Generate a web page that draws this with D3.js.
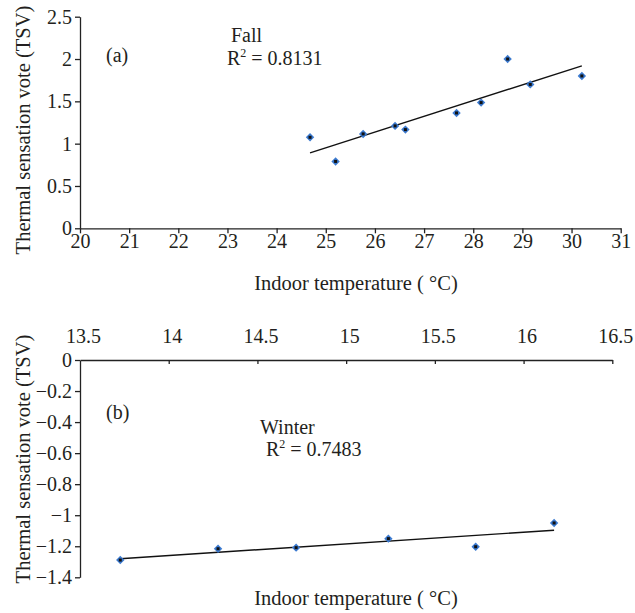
<!DOCTYPE html>
<html><head><meta charset="utf-8">
<script src="https://cdn.jsdelivr.net/npm/d3@7"></script>
<style>
body{margin:0;background:#fff;}
svg text{font-family:"Liberation Serif","Times New Roman",serif;fill:#231f20;}
</style></head>
<body><svg id="c" width="635" height="613"></svg>
<script>
// Fall data
const fallTemp = [24.68, 25.2, 25.76, 26.41, 26.62, 27.66, 28.16, 28.70, 29.16, 30.21];
const fallTSV  = [1.075, 0.79, 1.115, 1.21, 1.166, 1.363, 1.485, 2.0, 1.70, 1.80];
const fallXTicks = [20,21,22,23,24,25,26,27,28,29,30,31];
const fallYTicks = [0,0.5,1,1.5,2,2.5];
// Winter data
const winterTemp = [13.727, 14.278, 14.718, 15.238, 15.73, 16.172];
const winterTSV  = [-1.289, -1.216, -1.209, -1.151, -1.203, -1.050];
const winterXTicks = [13.5,14,14.5,15,15.5,16,16.5];
const winterYTicks = [0,-0.2,-0.4,-0.6,-0.8,-1,-1.2,-1.4];
const xTitle = "Indoor temperature ( °C)";
const yTitle = "Thermal sensation vote (TSV)";

const svg = d3.select("#c");
const FS = 20;
const TFS = 20.5;

function linreg(xs, ys){
  const n = xs.length, mx = d3.mean(xs), my = d3.mean(ys);
  let sxy=0, sxx=0;
  for(let i=0;i<n;i++){sxy+=(xs[i]-mx)*(ys[i]-my); sxx+=(xs[i]-mx)**2;}
  const b = sxy/sxx; return x => my + b*(x-mx);
}

function diamonds(g, xs, ys, x, y){
  const pts = xs.map((v,i)=>[x(v), y(ys[i])]);
  g.selectAll(null).data(pts).join("path")
    .attr("d", d=>`M${d[0]},${d[1]-4.2}L${d[0]+4.2},${d[1]}L${d[0]},${d[1]+4.2}L${d[0]-4.2},${d[1]}Z`)
    .attr("fill","#3b7ad0");
  g.selectAll(null).data(pts).join("rect")
    .attr("x",d=>d[0]-1.5).attr("y",d=>d[1]-1.5).attr("width",3).attr("height",3).attr("fill","#111");
}

function styleAxis(g){
  g.selectAll("path.domain").attr("stroke","#222").attr("stroke-width",1.3);
  g.selectAll(".tick line").attr("stroke","#222").attr("stroke-width",1.3);
  g.selectAll(".tick text").attr("font-family","Liberation Serif").attr("font-size",FS).attr("fill","#231f20");
}

// ---- Chart (a) Fall
{
  const x = d3.scaleLinear().domain([20,31]).range([80,620.7]);
  const y = d3.scaleLinear().domain([0,2.5]).range([228.3,16.7]);
  const gx = svg.append("g").attr("transform",`translate(0,${y(0)})`)
    .call(d3.axisBottom(x).tickValues(fallXTicks).tickSize(5).tickSizeOuter(0).tickPadding(1).tickFormat(d=>d));
  styleAxis(gx);
  const gy = svg.append("g").attr("transform",`translate(${x(20)},0)`)
    .call(d3.axisLeft(y).tickValues(fallYTicks).tickSize(5).tickSizeOuter(0).tickPadding(3).tickFormat(d=>d));
  styleAxis(gy);
  const f = linreg(fallTemp, fallTSV);
  const x0 = d3.min(fallTemp), x1 = d3.max(fallTemp);
  svg.append("line").attr("x1",x(x0)).attr("y1",y(f(x0))).attr("x2",x(x1)).attr("y2",y(f(x1)))
    .attr("stroke","#111").attr("stroke-width",1.4);
  diamonds(svg.append("g"), fallTemp, fallTSV, x, y);
  svg.append("text").attr("x",106).attr("y",62).attr("font-size",FS).text("(a)");
  svg.append("text").attr("x",231).attr("y",42).attr("font-size",FS).text("Fall");
  const r = svg.append("text").attr("x",227).attr("y",65).attr("font-size",FS);
  r.append("tspan").text("R");
  r.append("tspan").attr("dy",-8).attr("font-size",12).text("2");
  r.append("tspan").attr("dy",8).text(" = 0.8131");
  svg.append("text").attr("x",356).attr("y",290).attr("text-anchor","middle").attr("font-size",TFS).text(xTitle);
  svg.append("text").attr("transform",`translate(30,130) rotate(-90)`).attr("text-anchor","middle").attr("font-size",TFS).text(yTitle);
}

// ---- Chart (b) Winter
{
  const x = d3.scaleLinear().domain([13.5,16.5]).range([80,612.3]);
  const y = d3.scaleLinear().domain([0,-1.4]).range([360,577.3]);
  const gx = svg.append("g").attr("transform",`translate(0,${y(0)})`)
    .call(d3.axisTop(x).tickValues(winterXTicks).tickSize(-4).tickSizeOuter(0).tickPadding(17).tickFormat(d=>d));
  styleAxis(gx);
  gx.selectAll(".tick text").attr("dx",3);
  gx.selectAll(".tick").filter(d=>d===13.5).select("line").remove();
  const gy = svg.append("g").attr("transform",`translate(${x(13.5)},0)`)
    .call(d3.axisLeft(y).tickValues(winterYTicks).tickSize(5).tickSizeOuter(0).tickPadding(3)
      .tickFormat(d=> d===0 ? "0" : "\u2212"+String(Math.abs(d))));
  styleAxis(gy);
  const f = linreg(winterTemp, winterTSV);
  const x0 = d3.min(winterTemp), x1 = d3.max(winterTemp);
  svg.append("line").attr("x1",x(x0)).attr("y1",y(f(x0))).attr("x2",x(x1)).attr("y2",y(f(x1)))
    .attr("stroke","#111").attr("stroke-width",1.4);
  diamonds(svg.append("g"), winterTemp, winterTSV, x, y);
  svg.append("text").attr("x",106).attr("y",419).attr("font-size",FS).text("(b)");
  svg.append("text").attr("x",260).attr("y",434).attr("font-size",FS).text("Winter");
  const r = svg.append("text").attr("x",266).attr("y",456).attr("font-size",FS);
  r.append("tspan").text("R");
  r.append("tspan").attr("dy",-8).attr("font-size",12).text("2");
  r.append("tspan").attr("dy",8).text(" = 0.7483");
  svg.append("text").attr("x",356).attr("y",605).attr("text-anchor","middle").attr("font-size",TFS).text(xTitle);
  svg.append("text").attr("transform",`translate(30,459) rotate(-90)`).attr("text-anchor","middle").attr("font-size",TFS).text(yTitle);
}
</script></body></html>
